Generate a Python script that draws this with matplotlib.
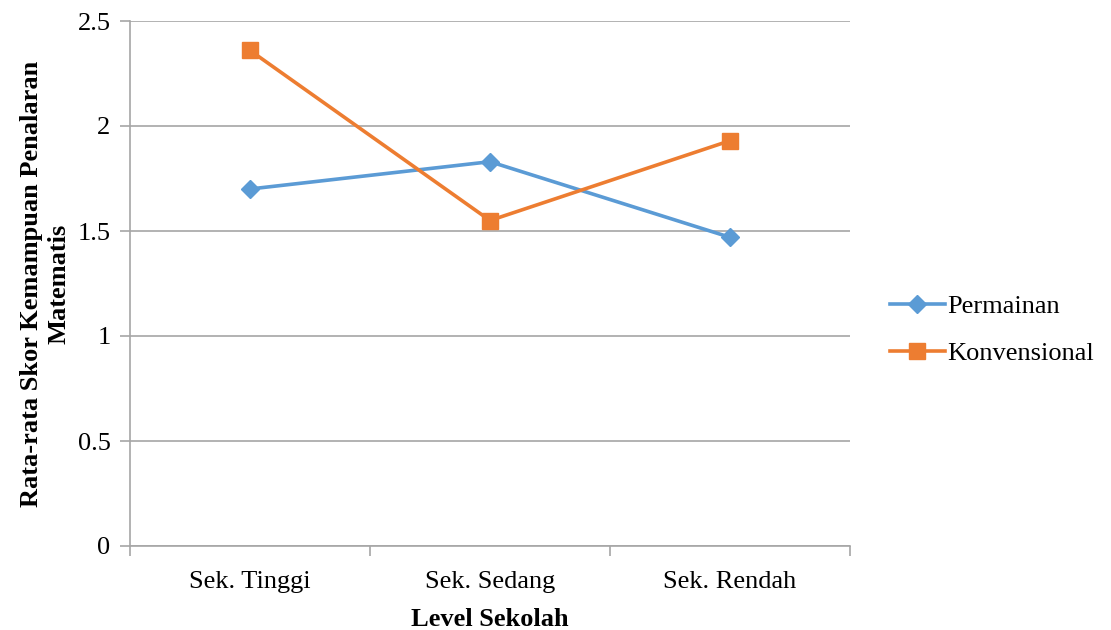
import matplotlib
matplotlib.use("Agg")
import matplotlib.pyplot as plt
from matplotlib.ticker import FixedLocator, NullFormatter

categories = ["Sek. Tinggi", "Sek. Sedang", "Sek. Rendah"]
permainan = [1.70, 1.83, 1.47]
konvensional = [2.36, 1.55, 1.93]
y_ticks = [0, 0.5, 1, 1.5, 2, 2.5]
y_tick_labels = ["0", "0.5", "1", "1.5", "2", "2.5"]

plt.rcParams["font.family"] = ["Liberation Serif", "DejaVu Serif"]
FS = 19

fig = plt.figure(figsize=(11.11, 6.30), dpi=100)
ax = fig.add_axes([130 / 1111, 84 / 630, 720 / 1111, 525 / 630])

grid_col = "#A6A6A6"
blue = "#5B9BD5"
orange = "#ED7D31"

x = list(range(len(categories)))
ax.plot(x, permainan, color=blue, lw=2.6, marker="D", ms=9,
        label="Permainan", zorder=3)
ax.plot(x, konvensional, color=orange, lw=2.6, marker="s", ms=11,
        label="Konvensional", zorder=3)

ax.set_xlim(-0.5, len(categories) - 0.5)
ax.set_ylim(0, 2.5)

ax.set_yticks(y_ticks)
ax.set_yticklabels(y_tick_labels, fontsize=FS)
ax.yaxis.grid(True, color=grid_col, lw=1.2)
ax.set_axisbelow(True)

# category boundaries carry the tick marks, centers carry the labels
ax.xaxis.set_major_locator(FixedLocator([i - 0.5 for i in range(len(categories) + 1)]))
ax.xaxis.set_major_formatter(NullFormatter())
ax.xaxis.set_minor_locator(FixedLocator(x))
ax.set_xticklabels(categories, minor=True, fontsize=FS)
ax.tick_params(axis="x", which="minor", length=0, pad=18)
ax.tick_params(axis="x", which="major", length=7, color=grid_col, width=1.2)
ax.tick_params(axis="y", length=7, color=grid_col, width=1.2, pad=7)

for side in ("top", "right"):
    ax.spines[side].set_visible(False)
ax.spines["left"].set_color(grid_col)
ax.spines["bottom"].set_color(grid_col)
ax.spines["left"].set_linewidth(1.2)
ax.spines["bottom"].set_linewidth(1.2)

ax.set_xlabel("Level Sekolah", fontsize=FS, fontweight="bold", labelpad=11)
ax.set_ylabel("Rata-rata Skor Kemampuan Penalaran\nMatematis", fontsize=FS,
              fontweight="bold", labelpad=5, linespacing=1.25)

ax.legend(loc="center left", bbox_to_anchor=(1.055, 0.412), frameon=False,
          borderaxespad=0, borderpad=0,
          fontsize=FS, handlelength=2.1, handletextpad=0.1, labelspacing=0.9)

fig.savefig("out.png", dpi=100)
